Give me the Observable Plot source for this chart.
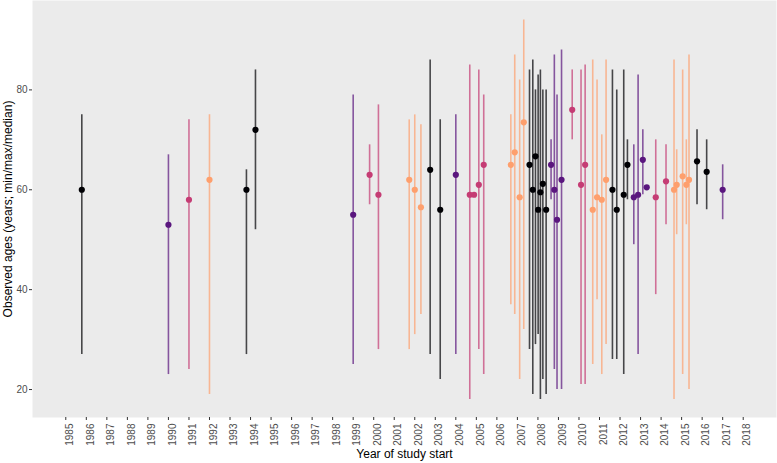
<!DOCTYPE html>
<html>
<head>
<meta charset="utf-8">
<script src="https://cdn.jsdelivr.net/npm/d3@7"></script>
<script src="https://cdn.jsdelivr.net/npm/@observablehq/plot@0.6"></script>
<style>
  html, body { margin: 0; padding: 0; background: #fff; }
</style>
</head>
<body>
<div id="chart"></div>
<script>
// ---- data ----
const studyYear = [1985.78, 1990.0, 1991.0, 1992.0, 1993.8, 1994.24, 1999.0, 1999.8, 2000.23,
  2001.73, 2002.0, 2002.3, 2002.75, 2003.24, 2004.0, 2004.68, 2004.89, 2005.12, 2005.36,
  2006.68, 2006.87, 2007.11, 2007.31, 2007.59, 2007.75, 2007.88, 2008.01, 2008.12, 2008.24, 2008.4,
  2008.64, 2008.8, 2008.93, 2009.15, 2009.67, 2010.1, 2010.3, 2010.67, 2010.88, 2011.11, 2011.32,
  2011.63, 2011.84, 2012.18, 2012.36, 2012.67, 2012.88, 2013.11, 2013.3, 2013.74, 2014.24,
  2014.63, 2014.76, 2015.05, 2015.23, 2015.36, 2015.75, 2016.22, 2017.0];
const medianAge = [60, 53, 58, 62, 60, 72, 55, 63, 59,
  62, 60, 56.5, 64, 56, 63, 59, 59, 61, 65,
  65, 67.5, 58.5, 73.5, 65, 60, 66.7, 56, 59.5, 61.2, 56,
  65, 60, 54, 62, 76, 61, 65, 56, 58.5, 58, 62,
  60, 56, 59, 65, 58.5, 59, 66, 60.5, 58.5, 61.7,
  60, 61, 62.7, 61, 62, 65.7, 63.6, 60];
const minAge = [27, 23, 24, 19, 27, 52, 25, 57, 28,
  28, 31, 35, 27, 22, 27, 18, null, 28, 23,
  37, 35, 22, 32, 28, 19, 29, 31, 18, 22, 19,
  58, 24, 20, 20, 70, 21, 21, 25, 38, 23, 29,
  26, 26, 23, 58, 49, 27, 59, null, 39, 53,
  18, 51, 23, 53, 20, 57, 56, 54];
const maxAge = [75, 67, 74, 75, 64, 84, 79, 69, 77,
  74, 75, 73, 86, 74, 75, 85, null, 84, 79,
  75, 87, 82, 94, 84, 86, 80, 83, 84, 80, 80,
  70, 87, 79, 88, 84, 84, 85, 86, 82, 71, 86,
  84, 80, 84, 70, 69, 83, 72, null, 70, 69,
  86, 68, 84, 70, 87, 72, 70, 65];
const groupIdx = [0, 1, 2, 3, 0, 0, 1, 2, 2,
  3, 3, 3, 0, 0, 1, 2, 2, 2, 2,
  3, 3, 3, 3, 0, 0, 0, 0, 0, 0, 0,
  1, 1, 1, 1, 2, 2, 2, 3, 3, 3, 3,
  0, 0, 0, 0, 1, 1, 1, 1, 2, 2,
  3, 3, 3, 3, 3, 0, 0, 1];
const groups = ["G1", "G2", "G3", "G4"];
const groupColors = ["#000004", "#5a167e", "#c53c74", "#fe9f6d"];
const xTicks = d3.range(1985, 2019);
const yTicks = [20, 40, 60, 80];

const data = studyYear.map((y, i) => ({
  year: y, median: medianAge[i], min: minAge[i], max: maxAge[i], group: groups[groupIdx[i]]
}));
const ranged = data.filter(d => d.min != null && d.max != null);

const font = "'Liberation Sans', Arial, sans-serif";

const chart = Plot.plot({
  width: 777,
  height: 463,
  marginLeft: 32,
  marginRight: 1,
  marginTop: 0,
  marginBottom: 46,
  style: { fontFamily: font, fontSize: "10px", background: "#fff", color: "#333" },
  x: { domain: [1983.378, 2019.622], axis: null },
  y: { domain: [14.4, 97.9], axis: null },
  color: { type: "ordinal", domain: groups, range: groupColors, legend: false },
  marks: [
    Plot.frame({ fill: "#ebebeb" }),
    Plot.ruleX(ranged, { x: "year", y1: "min", y2: "max", stroke: "group", strokeOpacity: 0.7, strokeWidth: 1.6 }),
    Plot.dot(data, { x: "year", y: "median", fill: "group", r: 3.1 }),
    // x axis ticks
    Plot.axisX(xTicks, { tickSize: 3, stroke: "#333", fill: "none", label: null }),
    // x axis tick labels (rotated)
    Plot.axisX(xTicks, { tickSize: 3, tickPadding: 3, stroke: "none", fill: "#4d4d4d", tickRotate: -90,
      tickFormat: d => String(d), dx: 4, label: null, fontSize: 10 }),
    // y axis
    Plot.axisY(yTicks, { tickSize: 3, tickPadding: 2, stroke: "#333", fill: "#4d4d4d", label: null, fontSize: 10 }),
    // axis titles
    Plot.text(["Year of study start"], { frameAnchor: "bottom", dy: 40, textAnchor: "middle", fill: "#000", fontSize: 12, fontFamily: font }),
    Plot.text(["Observed ages (years; min/max/median)"], { frameAnchor: "left", rotate: -90, dx: -24, textAnchor: "middle", fill: "#000", fontSize: 12, fontFamily: font })
  ]
});

document.getElementById("chart").appendChild(chart);
</script>
</body>
</html>
